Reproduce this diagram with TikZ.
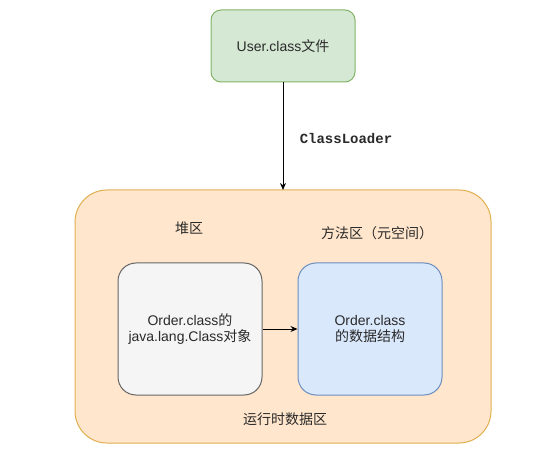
\documentclass[tikz,border=0pt]{standalone}
\usepackage{fontspec}
\setmainfont{Liberation Sans}
\setmonofont{Liberation Mono}
\newfontfamily\cjk{Noto Sans CJK SC}
\usetikzlibrary{arrows.meta}
\definecolor{gfill}{HTML}{D5E8D4}
\definecolor{gline}{HTML}{82B366}
\definecolor{ofill}{HTML}{FFE6CC}
\definecolor{oline}{HTML}{E0B050}
\definecolor{hfill}{HTML}{F5F5F5}
\definecolor{hline}{HTML}{666666}
\definecolor{bfill}{HTML}{DAE8FC}
\definecolor{bline}{HTML}{6C8EBF}
\definecolor{txt}{HTML}{2A2A2A}
\tikzset{
  box/.style={draw, line width=1pt, inner sep=0pt, align=center, font=\fontsize{14}{16}\selectfont},
  conn/.style={draw, line width=1pt, -{Stealth[length=7pt,width=6pt]}},
  lbl/.style={inner sep=0pt, font=\fontsize{14}{16}\selectfont, text=txt}
}
\begin{document}
\begin{tikzpicture}[x=1pt,y=-1pt]
\useasboundingbox[fill=white] (0,0) rectangle (549,473);
\path[box, fill=ofill, draw=oline, rounded corners=32pt] (75,190) rectangle (491,443);
\node[box, fill=gfill, draw=gline, rounded corners=10pt, minimum width=144pt, minimum height=72pt, text=txt] (user) at (283,46) {User.class{\cjk 文件}};
\coordinate (rtop) at (283,190);
\node[box, fill=hfill, draw=hline, rounded corners=18pt, minimum width=144pt, minimum height=132pt, text=txt] (heapobj) at (190,329) {Order.class{\cjk 的}\\java.lang.Class{\cjk 对象}};
\node[box, fill=bfill, draw=bline, rounded corners=18pt, minimum width=144pt, minimum height=132pt, text=txt] (meta) at (370,329) {Order.class\\{\cjk 的数据结构}};
\draw[conn] (user.south) -- (rtop);
\draw[conn] (heapobj.east) -- (meta.west);
\node[lbl, font=\ttfamily\bfseries\fontsize{14}{16}\selectfont] (cl) at (346,138) {ClassLoader};
\node[lbl, font=\cjk\fontsize{14}{16}\selectfont] (heap) at (189,228) {堆区};
\node[lbl, font=\cjk\fontsize{14}{16}\selectfont] (method) at (377,233) {方法区（元空间）};
\node[lbl, font=\cjk\fontsize{14}{16}\selectfont] (rt) at (285,419) {运行时数据区};
\end{tikzpicture}
\end{document}
